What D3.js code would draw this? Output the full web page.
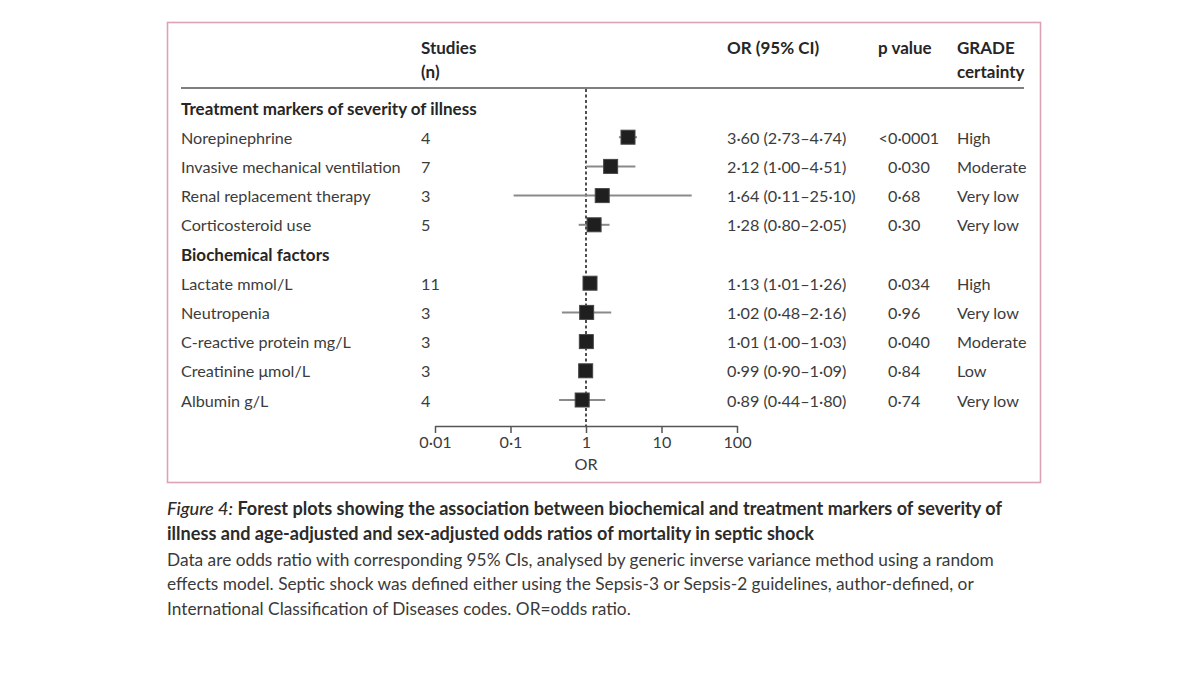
<!DOCTYPE html>
<html>
<head>
<meta charset="utf-8">
<script src="https://cdn.jsdelivr.net/npm/d3@7"></script>
<style>
  html, body { margin: 0; padding: 0; background: #fff; }
  svg { display: block; }
</style>
</head>
<body>
<div id="chart"></div>
<script>
/* forest plot, OR on a log scale */

const groups = ["Treatment markers of severity of illness", "Biochemical factors"];
const categories = [
  "Norepinephrine", "Invasive mechanical ventilation", "Renal replacement therapy", "Corticosteroid use",
  "Lactate mmol/L", "Neutropenia", "C-reactive protein mg/L", "Creatinine μmol/L", "Albumin g/L"
];
const groupOf = [0, 0, 0, 0, 1, 1, 1, 1, 1];
const studies = [4, 7, 3, 5, 11, 3, 3, 3, 4];
const orValues = [3.60, 2.12, 1.64, 1.28, 1.13, 1.02, 1.01, 0.99, 0.89];
const ciLow = [2.73, 1.00, 0.11, 0.80, 1.01, 0.48, 1.00, 0.90, 0.44];
const ciHigh = [4.74, 4.51, 25.10, 2.05, 1.26, 2.16, 1.03, 1.09, 1.80];
const pValues = ["<0·0001", "0·030", "0·68", "0·30", "0·034", "0·96", "0·040", "0·84", "0·74"];
const grades = ["High", "Moderate", "Very low", "Very low", "High", "Very low", "Moderate", "Low", "Very low"];
const tickValues = [0.01, 0.1, 1, 10, 100];
const tickLabels = ["0·01", "0·1", "1", "10", "100"];

const fmt = v => v.toFixed(2).replace(".", "·");
const orText = orValues.map((v, i) => `${fmt(v)} (${fmt(ciLow[i])}–${fmt(ciHigh[i])})`);

const W = 1200, H = 675;
const font = "Lato, 'Open Sans', sans-serif";
const textColor = "#3c3c3c";
const boldColor = "#262626";
const fs = 16.2, fsBold = 17;

const svg = d3.select("#chart").append("svg")
  .attr("width", W).attr("height", H)
  .style("font-family", font);

/* frame */
svg.append("rect")
  .attr("x", 167.5).attr("y", 22.5)
  .attr("width", 873).attr("height", 460)
  .attr("fill", "none")
  .attr("stroke", "#dba3b6")
  .attr("stroke-width", 1.6);

/* rows: header + items per group */
const rows = [];
groups.forEach((gname, gi) => {
  rows.push({ type: "group", label: gname });
  categories.forEach((c, i) => { if (groupOf[i] === gi) rows.push({ type: "item", i }); });
});

const y = d3.scaleLinear().domain([0, rows.length - 1]).range([108, 400]);
const x = d3.scaleLog().domain([0.01, 100]).range([435, 737]);

const col = { label: 181, studies: 421, or: 727, p: 888, grade: 957 };

/* column headers */
const head = svg.append("g")
  .attr("font-weight", 700)
  .attr("font-size", fsBold)
  .attr("fill", boldColor)
  .attr("dominant-baseline", "central");
head.append("text").attr("x", col.studies).attr("y", 47).text("Studies");
head.append("text").attr("x", col.studies).attr("y", 71).text("(n)");
head.append("text").attr("x", col.or).attr("y", 47).text("OR (95% CI)");
head.append("text").attr("x", col.p - 10).attr("y", 47).text("p value");
head.append("text").attr("x", col.grade).attr("y", 47).text("GRADE");
head.append("text").attr("x", col.grade).attr("y", 71).text("certainty");

svg.append("line")
  .attr("x1", 181).attr("x2", 1024)
  .attr("y1", 88).attr("y2", 88)
  .attr("stroke", "#555").attr("stroke-width", 1.5);

/* reference line at OR = 1 */
const axisY = 426;
svg.append("line")
  .attr("x1", x(1)).attr("x2", x(1))
  .attr("y1", 89).attr("y2", axisY)
  .attr("stroke", "#222")
  .attr("stroke-width", 1.6)
  .attr("stroke-dasharray", "3,2.5");

/* table text */
const body = svg.append("g")
  .attr("font-size", fs)
  .attr("fill", textColor)
  .attr("dominant-baseline", "central");

rows.forEach((r, ri) => {
  const yy = y(ri);
  if (r.type === "group") {
    body.append("text").attr("x", col.label).attr("y", yy)
      .attr("font-weight", 700).attr("font-size", fsBold).attr("fill", boldColor).text(r.label);
    return;
  }
  const i = r.i;
  body.append("text").attr("x", col.label).attr("y", yy).text(categories[i]);
  body.append("text").attr("x", col.studies).attr("y", yy).text(studies[i]);
  body.append("text").attr("x", col.or).attr("y", yy).text(orText[i]);
  const p = pValues[i];
  if (p.startsWith("<")) {
    body.append("text").attr("x", col.p).attr("y", yy).attr("text-anchor", "end").text("<");
    body.append("text").attr("x", col.p).attr("y", yy).text(p.slice(1));
  } else {
    body.append("text").attr("x", col.p).attr("y", yy).text(p);
  }
  body.append("text").attr("x", col.grade).attr("y", yy).text(grades[i]);
});

/* confidence intervals and point estimates */
const items = rows.map((r, ri) => ({ ...r, ri })).filter(r => r.type === "item");
const marks = svg.append("g");
marks.selectAll("line.ci")
  .data(items)
  .join("line")
    .attr("class", "ci")
    .attr("x1", d => x(ciLow[d.i])).attr("x2", d => x(ciHigh[d.i]))
    .attr("y1", d => y(d.ri)).attr("y2", d => y(d.ri))
    .attr("stroke", "#8a8a8a")
    .attr("stroke-width", 2);

const box = 14;
marks.selectAll("rect.est")
  .data(items)
  .join("rect")
    .attr("class", "est")
    .attr("x", d => x(orValues[d.i]) - box / 2)
    .attr("y", d => y(d.ri) - box / 2)
    .attr("width", box).attr("height", box)
    .attr("fill", "#1f1f1f")
    .attr("stroke", "#444")
    .attr("stroke-width", 1);

/* axis */
const axis = svg.append("g")
  .attr("transform", `translate(0,${axisY})`)
  .call(d3.axisBottom(x).tickValues(tickValues)
    .tickFormat((d, i) => tickLabels[i])
    .tickSize(7).tickSizeOuter(0).tickPadding(3));
axis.select(".domain").attr("stroke", "#555").attr("stroke-width", 1.5);
axis.selectAll(".tick line").attr("stroke", "#555").attr("stroke-width", 1.5);
axis.selectAll(".tick text")
  .attr("fill", textColor)
  .style("font-family", font)
  .style("font-size", fs + "px");

svg.append("text")
  .attr("x", x(1)).attr("y", 463)
  .attr("text-anchor", "middle")
  .attr("dominant-baseline", "central")
  .attr("font-size", fs)
  .attr("fill", textColor)
  .text("OR");

/* caption */
const cap = svg.append("g").attr("fill", "#2b2b2b");
const l1 = cap.append("text").attr("x", 167).attr("y", 508)
  .attr("dominant-baseline", "central").attr("font-size", 18.1).attr("font-weight", 700);
l1.append("tspan").attr("font-style", "italic").attr("font-weight", 500).text("Figure 4:");
l1.append("tspan").text(" Forest plots showing the association between biochemical and treatment markers of severity of");
cap.append("text").attr("x", 167).attr("y", 533)
  .attr("dominant-baseline", "central").attr("font-size", 18.1).attr("font-weight", 700)
  .text("illness and age-adjusted and sex-adjusted odds ratios of mortality in septic shock");

const notes = [
  "Data are odds ratio with corresponding 95% CIs, analysed by generic inverse variance method using a random",
  "effects model. Septic shock was defined either using the Sepsis-3 or Sepsis-2 guidelines, author-defined, or",
  "International Classification of Diseases codes. OR=odds ratio."
];
cap.selectAll("text.note")
  .data(notes)
  .join("text")
    .attr("class", "note")
    .attr("x", 167)
    .attr("y", (d, i) => 559 + i * 24.5)
    .attr("dominant-baseline", "central")
    .attr("font-size", 17.3)
    .attr("fill", "#3a3a3a")
    .text(d => d);
</script>
</body>
</html>
